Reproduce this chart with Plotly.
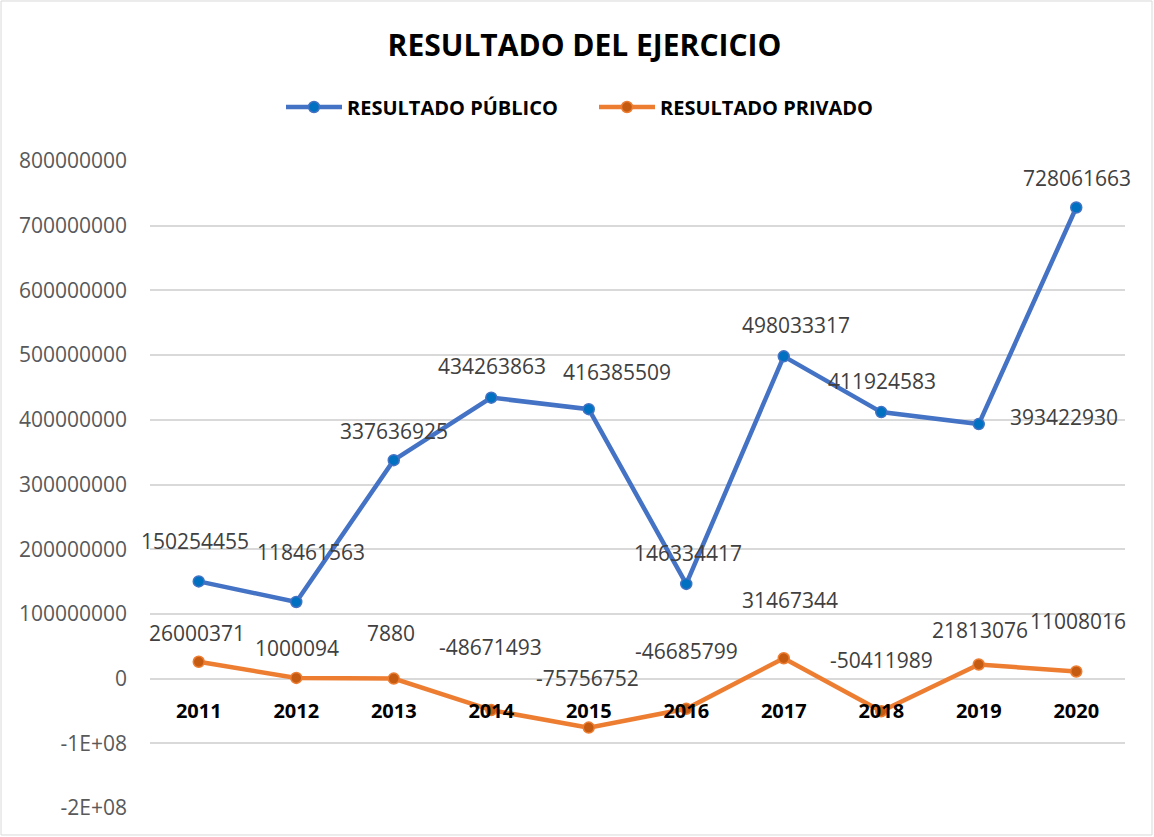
import plotly.graph_objects as go

years = ["2011", "2012", "2013", "2014", "2015", "2016", "2017", "2018", "2019", "2020"]
publico = [150254455, 118461563, 337636925, 434263863, 416385509, 146334417, 498033317, 411924583, 393422930, 728061663]
privado = [26000371, 1000094, 7880, -48671493, -75756752, -46685799, 31467344, -50411989, 21813076, 11008016]
y_ticks = [-200000000, -100000000, 0, 100000000, 200000000, 300000000, 400000000, 500000000, 600000000, 700000000, 800000000]
y_tick_text = ["-2E+08", "-1E+08", "0", "100000000", "200000000", "300000000", "400000000", "500000000", "600000000", "700000000", "800000000"]

# label pixel offsets (x, y) relative to each point
pub_off = [(-4, 40), (15, 50), (0, 29), (1, 32), (28, 37), (2, 31), (12, 31), (1, 31), (85, 7), (1, 30)]
priv_off = [(-2, 29), (1, 30), (-3, 46), (-1, 63), (-1, 50), (0, 58), (6, 58), (0, 51), (1, 34), (2, 50)]

FONT = "Open Sans"
BLUE = "#4472C4"
ORANGE = "#ED7D31"

fig = go.Figure()
fig.add_trace(go.Scatter(
    x=years, y=publico, name="RESULTADO PÚBLICO", mode="lines+markers",
    line=dict(color=BLUE, width=4.5),
    marker=dict(size=11, color="#0070C0", line=dict(color=BLUE, width=1.5)),
))
fig.add_trace(go.Scatter(
    x=years, y=privado, name="RESULTADO PRIVADO", mode="lines+markers",
    line=dict(color=ORANGE, width=4.5),
    marker=dict(size=11, color="#C55A11", line=dict(color=ORANGE, width=1.5)),
))

for series, offs in ((publico, pub_off), (privado, priv_off)):
    for i, (yv, (dx, dy)) in enumerate(zip(series, offs)):
        fig.add_annotation(x=i, y=yv, text=str(yv), showarrow=False,
                           xshift=dx, yshift=dy,
                           font=dict(family=FONT, size=21, color="#404040"))

fig.add_shape(type="rect", xref="paper", yref="paper",
              x0=-0.1528, x1=1.0277, y0=-0.0417, y1=1.2473,
              line=dict(color="#D9D9D9", width=1), layer="below")

fig.update_layout(
    width=1154, height=837,
    margin=dict(l=150, r=29, t=161, b=29),
    paper_bgcolor="white", plot_bgcolor="white",
    title=dict(text="<b>RESULTADO DEL EJERCICIO</b>", xref="container", x=584.5 / 1154, xanchor="center",
               yref="container", y=1 - 45 / 837, yanchor="middle",
               font=dict(family=FONT, size=30, color="#000000")),
    legend=dict(orientation="h", xref="container", yref="container",
                x=281 / 1154, xanchor="left", y=1 - 107 / 837, yanchor="middle",
                font=dict(family=FONT, size=20, color="#000000", weight="bold"),
                itemwidth=56, entrywidth=242, entrywidthmode="pixels",
                bgcolor="rgba(0,0,0,0)"),
    showlegend=True,
)
fig.update_xaxes(
    type="category", range=[-0.5, 9.5], showgrid=False, showline=False, zeroline=False,
    anchor="free", position=(808 - 678) / 647,
    ticks="", ticklabelstandoff=19,
    tickfont=dict(family=FONT, size=20, color="#000000", weight="bold"),
)
fig.update_yaxes(
    range=[-200000000, 800000000], tickvals=y_ticks, ticktext=y_tick_text,
    showgrid=True, gridcolor="#D9D9D9", gridwidth=1.5,
    zeroline=True, zerolinecolor="#D9D9D9", zerolinewidth=1.5,
    showline=False, ticks="", ticklabelstandoff=22,
    tickfont=dict(family=FONT, size=21, color="#595959"),
)

fig.write_html("out.html", config={"displayModeBar": False},
               post_script="document.body.style.margin='0';")
